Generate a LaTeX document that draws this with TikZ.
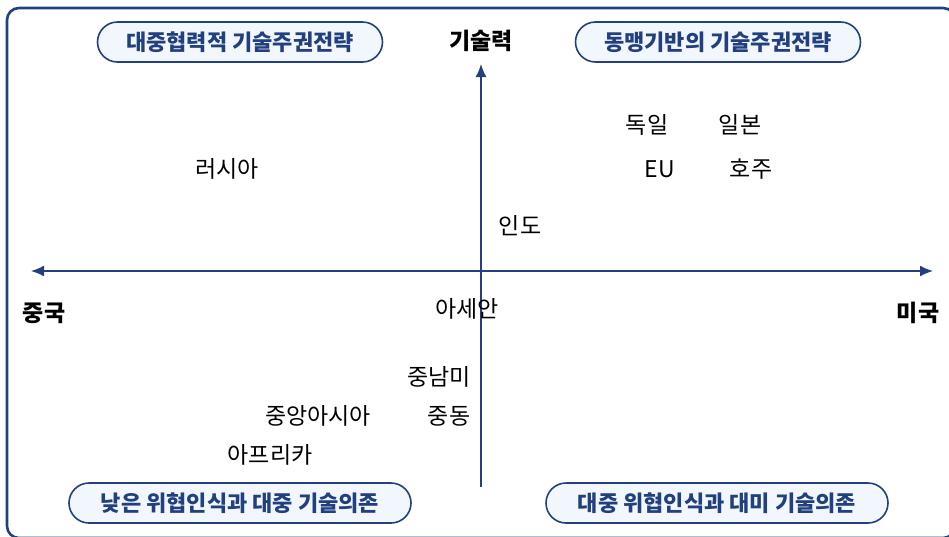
\documentclass[tikz,border=0pt]{standalone}
\usepackage{fontspec}
\setmainfont{Noto Sans CJK KR}
\usetikzlibrary{arrows.meta}
\definecolor{navy}{HTML}{22407F}
\definecolor{pale}{HTML}{F1F7FD}
\tikzset{
  badge/.style={draw=navy, fill=pale, line width=1.6pt, rounded corners=20pt, minimum width=#1, minimum height=40pt, inner sep=0pt, text=navy, font=\fontsize{22}{26}\selectfont\bfseries},
  lab/.style={font=\fontsize{23}{27}\selectfont, text=black, inner sep=0pt},
  axlab/.style={font=\fontsize{23}{27}\selectfont\bfseries, text=black, inner sep=0pt},
  axis/.style={draw=navy, line width=1.6pt, -{Latex[length=13pt,width=11pt]}},
}
\begin{document}
\begin{tikzpicture}[x=1pt,y=-1pt]
\useasboundingbox (0,0) rectangle (949,536);
\begin{scope}
\clip (0,0) rectangle (949,536);
\draw[navy, line width=2.6pt, rounded corners=12pt] (7,8) rectangle (955,538);
\end{scope}
% axes
\coordinate (vb) at (481,487);
\coordinate (vt) at (481,64);
\coordinate (hl) at (31,271);
\coordinate (hr) at (933,271);
\coordinate (hc) at (481,271);
\draw[axis] (vb) -- (vt);
\draw[axis] (hc) -- (hl);
\draw[axis] (hc) -- (hr);
% axis labels
\node[axlab] (tech) at (481,41) {기술력};
\node[axlab] (cn) at (44,313) {중국};
\node[axlab] (us) at (918,313) {미국};
% badges
\node[badge=285pt] (b1) at (240,42) {대중협력적 기술주권전략};
\node[badge=285pt] (b2) at (718,42) {동맹기반의 기술주권전략};
\node[badge=342pt] (b3) at (240,503) {낮은 위협인식과 대중 기술의존};
\node[badge=342pt] (b4) at (717,503) {대중 위협인식과 대미 기술의존};
% countries
\node[lab] (de) at (647,125) {독일};
\node[lab] (jp) at (740,125) {일본};
\node[lab] (eu) at (660,169) {EU};
\node[lab] (au) at (751,169) {호주};
\node[lab] (ru) at (227,169) {러시아};
\node[lab] (in) at (520,226) {인도};
\node[lab] (asean) at (467,309) {아세안};
\node[lab] (latam) at (439,377) {중남미};
\node[lab] (ca) at (318,416) {중앙아시아};
\node[lab] (me) at (449,416) {중동};
\node[lab] (af) at (270,455) {아프리카};
\end{tikzpicture}
\end{document}
